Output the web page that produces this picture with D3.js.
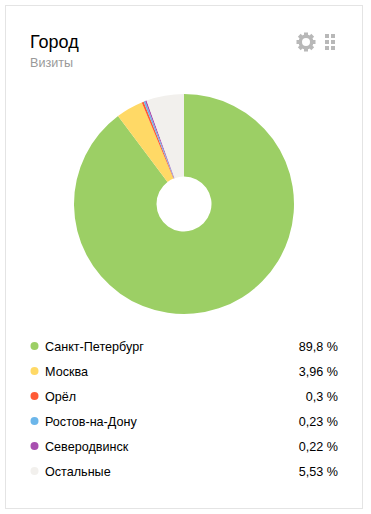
<!DOCTYPE html>
<html><head><meta charset="utf-8">
<script src="https://cdn.jsdelivr.net/npm/d3@7"></script>
<style>html,body{margin:0;padding:0;background:#fff}svg{display:block}</style>
</head><body><svg id="c" width="371" height="514"></svg>
<script>
const categories=["Санкт-Петербург","Москва","Орёл","Ростов-на-Дону","Северодвинск","Остальные"];
const values=[89.8,3.96,0.3,0.23,0.22,5.53];
const labels=["89,8 %","3,96 %","0,3 %","0,23 %","0,22 %","5,53 %"];
const colors=["#9ccf65","#ffd966","#ff5b36","#6cb6ea","#a850b0","#f2f0ed"];
const gridRows=[0,1,2];
const gridCols=[0,1];
const svg=d3.select("#c");
const font="Arial, 'Liberation Sans', sans-serif";
svg.append("rect").attr("x",5.5).attr("y",5.5).attr("width",357).attr("height",503).attr("fill","#fff").attr("stroke","#e4e4e4");
svg.append("text").attr("x",30).attr("y",48).attr("font-family",font).attr("font-size",18).attr("fill","#000").text("Город");
svg.append("text").attr("x",30).attr("y",67).attr("font-family",font).attr("font-size",12.6).attr("fill","#999").text("Визиты");
// gear icon
const gear=svg.append("g").attr("transform","translate(306,42)").attr("fill","#b8b8b8");
gear.append("path").attr("d",d3.arc().innerRadius(4).outerRadius(7.5)({startAngle:0,endAngle:2*Math.PI}));
d3.range(8).forEach(i=>gear.append("rect").attr("x",-2).attr("y",-9.5).attr("width",4).attr("height",4).attr("transform",`rotate(${i*45})`));
// grid icon
const s=svg.append("g").attr("fill","#b8b8b8");
gridRows.forEach(r=>gridCols.forEach(c=>s.append("rect").attr("x",325+c*6).attr("y",34+r*6).attr("width",4).attr("height",4)));
const pie=d3.pie().sort(null).value(d=>d)(values);
const arc=d3.arc().innerRadius(27.5).outerRadius(110);
const g=svg.append("g").attr("transform","translate(184,204)");
g.selectAll("path").data(pie).join("path").attr("d",arc).attr("fill",(d,i)=>colors[i]);
const y=d3.scalePoint().domain(categories).range([346,471]);
const row=svg.selectAll("g.r").data(categories).join("g").attr("class","r").attr("transform",d=>`translate(0,${y(d)})`);
row.append("circle").attr("cx",34.5).attr("r",4).attr("fill",(d,i)=>colors[i]);
row.append("text").attr("x",45).attr("y",4.5).attr("font-family",font).attr("font-size",12.6).attr("fill","#000").text(d=>d);
row.append("text").attr("x",338).attr("y",4.5).attr("text-anchor","end").attr("font-family",font).attr("font-size",12.6).attr("fill","#000").text((d,i)=>labels[i]);
</script></body></html>
